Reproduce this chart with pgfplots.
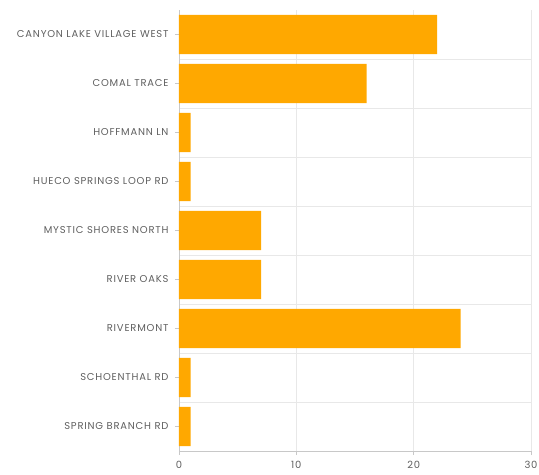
\documentclass[border=0pt]{standalone}
\usepackage{fontspec}
\setmainfont{Poppins}[LetterSpace=8]
\usepackage{pgfplots}
\pgfplotsset{compat=1.18}
\definecolor{barc}{RGB}{255,168,0}
\definecolor{txt}{RGB}{95,95,95}
\definecolor{gridc}{RGB}{232,232,232}
\definecolor{axc}{RGB}{200,200,200}
\begin{document}
\begin{tikzpicture}
\path[use as bounding box] (-179bp,-24bp) rectangle (360bp,451bp);
\begin{axis}[
  at={(0,0)}, anchor=south west,
  scale only axis, width=352bp, height=441bp,
  xbar, bar width=0.8,
  xmin=0, xmax=30, xtick={0,10,20,30},
  ymin=-0.5, ymax=8.5, y dir=reverse,
  ytick={0,...,8},
  yticklabels={CANYON LAKE VILLAGE WEST, COMAL TRACE, HOFFMANN LN, HUECO SPRINGS LOOP RD, MYSTIC SHORES NORTH, RIVER OAKS, RIVERMONT, SCHOENTHAL RD, SPRING BRANCH RD},
  minor ytick={0.5,1.5,...,7.5},
  xmajorgrids, yminorgrids,
  grid style={gridc, line width=0.6pt},
  minor grid style={gridc, line width=0.6pt},
  axis x line*=bottom, axis y line*=left,
  axis line style={axc, line width=0.8pt},
  major tick length=4bp, minor tick length=0pt,
  tick style={axc, line width=0.6pt},
  xtick align=outside, ytick align=outside,
  tick label style={txt, font=\fontsize{10}{12}\selectfont},
  yticklabel style={xshift=-3bp},
  xticklabel style={yshift=-3bp},
  /pgf/number format/assume math mode=true,
  clip=false,
]
\addplot[fill=barc, draw=none] coordinates {
(22,0) (16,1) (1,2) (1,3) (7,4) (7,5) (24,6) (1,7) (1,8)
};
\end{axis}
\end{tikzpicture}
\end{document}
